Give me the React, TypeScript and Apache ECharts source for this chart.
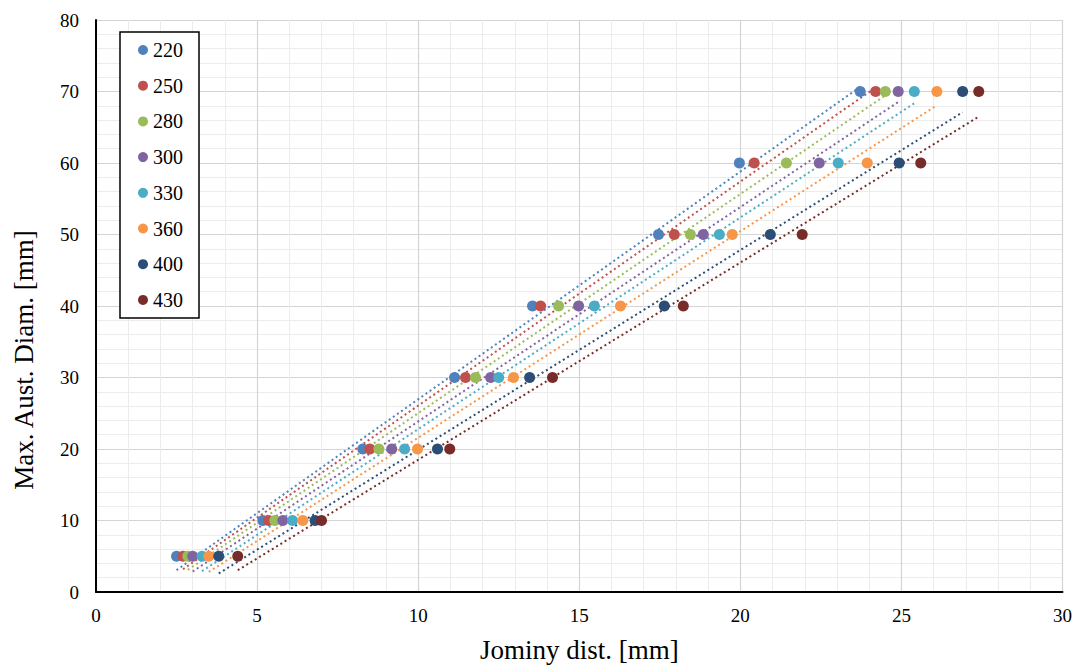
import React, { useEffect, useRef } from "react";
import * as echarts from "echarts";

const seriesNames = ["220", "250", "280", "300", "330", "360", "400", "430"];
const colors = ["#4F81BD", "#C0504D", "#9BBB59", "#8064A2", "#4BACC6", "#F79646", "#2C4D75", "#772C2A"];
const diamLevels = [5, 10, 20, 30, 40, 50, 60, 70];

const dist220 = [2.5, 5.18, 8.28, 11.13, 13.55, 17.46, 19.97, 23.72];
const dist250 = [2.7, 5.36, 8.5, 11.47, 13.8, 17.95, 20.43, 24.2];
const dist280 = [2.85, 5.55, 8.78, 11.78, 14.36, 18.45, 21.43, 24.5];
const dist300 = [3.0, 5.8, 9.18, 12.25, 14.98, 18.85, 22.45, 24.9];
const dist330 = [3.29, 6.1, 9.58, 12.5, 15.47, 19.35, 23.04, 25.4];
const dist360 = [3.5, 6.42, 9.98, 12.96, 16.28, 19.75, 23.94, 26.1];
const dist400 = [3.81, 6.8, 10.6, 13.46, 17.64, 20.93, 24.93, 26.9];
const dist430 = [4.4, 7.0, 10.98, 14.17, 18.23, 21.92, 25.6, 27.4];

const allDist = [dist220, dist250, dist280, dist300, dist330, dist360, dist400, dist430];

const xTicks = [0, 5, 10, 15, 20, 25, 30];
const yTicks = [0, 10, 20, 30, 40, 50, 60, 70, 80];
const xTitle = "Jominy dist. [mm]";
const yTitle = "Max. Aust. Diam. [mm]";

function trend(xs: number[], ys: number[]): number[][] {
  const n = xs.length;
  const mx = xs.reduce((a, b) => a + b, 0) / n;
  const my = ys.reduce((a, b) => a + b, 0) / n;
  let sxy = 0, sxx = 0;
  for (let i = 0; i < n; i++) {
    sxy += (xs[i] - mx) * (ys[i] - my);
    sxx += (xs[i] - mx) * (xs[i] - mx);
  }
  const b = sxy / sxx;
  const a = my - b * mx;
  const x0 = Math.min(...xs);
  const x1 = Math.max(...xs);
  return [[x0, a + b * x0], [x1, a + b * x1]];
}

export default function App() {
  const ref = useRef<HTMLDivElement>(null);
  useEffect(() => {
    if (!ref.current) return;
    const chart = echarts.init(ref.current, null, { renderer: "svg" });
    const font = "Liberation Serif";
    const series: any[] = [];
    allDist.forEach((d, i) => {
      series.push({
        name: seriesNames[i] + "_trend",
        type: "line",
        data: trend(d, diamLevels),
        showSymbol: false,
        symbol: "none",
        silent: true,
        lineStyle: { color: colors[i], width: 2, type: [2, 3] },
        z: 1,
      });
    });
    allDist.forEach((d, i) => {
      series.push({
        name: seriesNames[i],
        type: "scatter",
        data: d.map((x, j) => [x, diamLevels[j]]),
        symbol: "circle",
        symbolSize: 11,
        itemStyle: { color: colors[i], opacity: 1 },
        z: 3,
      });
    });
    chart.setOption({
      animation: false,
      backgroundColor: "#ffffff",
      grid: { left: 96, top: 20, right: 12, bottom: 70, containLabel: false },
      legend: {
        data: seriesNames.map((n) => ({ name: n, icon: "circle" })),
        orient: "vertical",
        left: 120,
        top: 32,
        itemWidth: 10,
        itemHeight: 10,
        itemGap: 15.7,
        padding: [8, 16, 8, 18],
        backgroundColor: "#ffffff",
        borderColor: "#000000",
        borderWidth: 1.5,
        textStyle: { fontFamily: font, fontSize: 20, color: "#000" },
      },
      graphic: [
        {
          type: "text",
          x: 24,
          y: 360,
          rotation: Math.PI / 2,
          style: {
            text: yTitle,
            fontFamily: font,
            fontSize: 27,
            fill: "#000",
            textAlign: "center",
            textVerticalAlign: "middle",
          },
        },
      ],
      xAxis: {
        type: "value",
        min: 0,
        max: 30,
        interval: 5,
        name: xTitle,
        nameLocation: "middle",
        nameGap: 44,
        nameTextStyle: { fontFamily: font, fontSize: 27, color: "#000" },
        axisLine: { show: true, onZero: false, lineStyle: { color: "#000", width: 2 } },
        axisTick: { show: false },
        axisLabel: { fontFamily: font, fontSize: 19, color: "#000", margin: 14, formatter: (v: number) => (xTicks.includes(v) ? String(v) : "") },
        splitLine: { show: true, lineStyle: { color: "#d4d4d4", width: 1.2 } },
        minorTick: { show: false, splitNumber: 5 },
        minorSplitLine: { show: true, lineStyle: { color: "#ececec", width: 1 } },
      },
      yAxis: {
        type: "value",
        min: 0,
        max: 80,
        interval: 10,
        axisLine: { show: true, onZero: false, lineStyle: { color: "#000", width: 2 } },
        axisTick: { show: false },
        axisLabel: { fontFamily: font, fontSize: 19, color: "#000", margin: 17, formatter: (v: number) => (yTicks.includes(v) ? String(v) : "") },
        splitLine: { show: true, lineStyle: { color: "#d4d4d4", width: 1.2 } },
        minorTick: { show: false, splitNumber: 5 },
        minorSplitLine: { show: true, lineStyle: { color: "#ececec", width: 1 } },
      },
      series,
    });
    return () => chart.dispose();
  }, []);
  return (
    <div
      ref={ref}
      style={{ position: "fixed", left: 0, top: 0, width: 1075, height: 668, background: "#fff" }}
    />
  );
}
